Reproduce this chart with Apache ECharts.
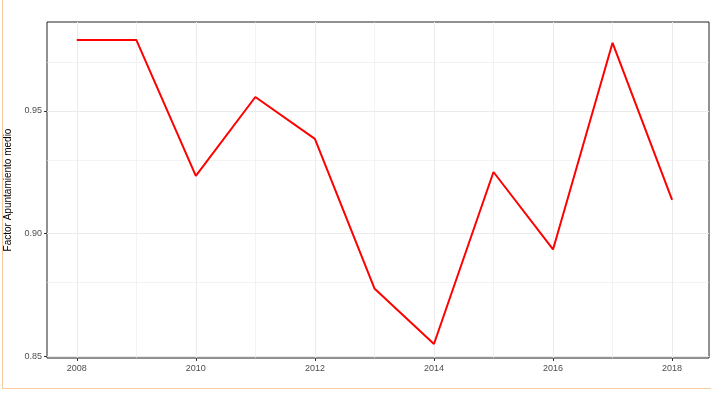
<!DOCTYPE html>
<html>
<head>
<meta charset="utf-8">
<script src="https://cdn.jsdelivr.net/npm/echarts@6/dist/echarts.min.js"></script>
<style>
  body { margin: 0; background: #fff; }
  #frame { position: absolute; left: 2px; top: 0; width: 708px; height: 388px; border-left: 1px solid #f8cba0; border-bottom: 1px solid #f8cba0; }
  #chart { width: 708px; height: 388px; }
</style>
</head>
<body>
<div id="frame"><div id="chart"></div></div>
<script>
// datos
var years = [2008, 2009, 2010, 2011, 2012, 2013, 2014, 2015, 2016, 2017, 2018];
var values = [0.979, 0.979, 0.9235, 0.9557, 0.9386, 0.8776, 0.8549, 0.9251, 0.8935, 0.9778, 0.9137];
var xTicks = [2008, 2010, 2012, 2014, 2016, 2018];
var yTicks = [0.85, 0.90, 0.95];
var yGrid = [0.85, 0.875, 0.90, 0.925, 0.95, 0.975];

var chart = echarts.init(document.getElementById('chart'));

var gridLines = [];
years.forEach(function (y) {
  gridLines.push({ xAxis: y, lineStyle: { color: '#ebebeb', type: 'solid', width: xTicks.indexOf(y) >= 0 ? 1 : 0.6 } });
});
yGrid.forEach(function (v) {
  gridLines.push({ yAxis: v, lineStyle: { color: '#ebebeb', type: 'solid', width: yTicks.indexOf(v) >= 0 ? 1 : 0.6 } });
});

chart.setOption({
  animation: false,
  grid: { left: 44, right: 2, top: 22, bottom: 30, containLabel: false, outerBoundsMode: 'none',
    show: true, borderColor: '#222', borderWidth: 1 },
  xAxis: {
    type: 'value', min: 2007.5, max: 2018.62,
    axisLine: { show: false },
    splitLine: { show: false },
    axisTick: { customValues: xTicks, length: 3, lineStyle: { color: '#333' } },
    axisLabel: { customValues: xTicks, color: '#4d4d4d', fontSize: 9, fontFamily: 'Liberation Sans', margin: 6,
      formatter: function (v) { return String(v); } }
  },
  yAxis: {
    type: 'value', min: 0.8492, max: 0.9863,
    name: 'Factor Apuntamiento medio', nameLocation: 'middle', nameGap: 28,
    nameTextStyle: { color: '#000', fontSize: 10, fontFamily: 'Liberation Sans' },
    axisLine: { show: false },
    splitLine: { show: false },
    axisTick: { show: true, customValues: yTicks, length: 3, lineStyle: { color: '#333' } },
    axisLabel: { customValues: yTicks, color: '#4d4d4d', fontSize: 9, fontFamily: 'Liberation Sans', margin: 5,
      formatter: function (v) { return v.toFixed(2); } }
  },
  series: [{
    type: 'line',
    data: years.map(function (y, i) { return [y, values[i]]; }),
    symbol: 'none',
    lineStyle: { color: '#ff0000', width: 2 },
    z: 5,
    markLine: { silent: true, symbol: 'none', label: { show: false }, data: gridLines, z: 1 }
  }]
});
</script>
</body>
</html>
